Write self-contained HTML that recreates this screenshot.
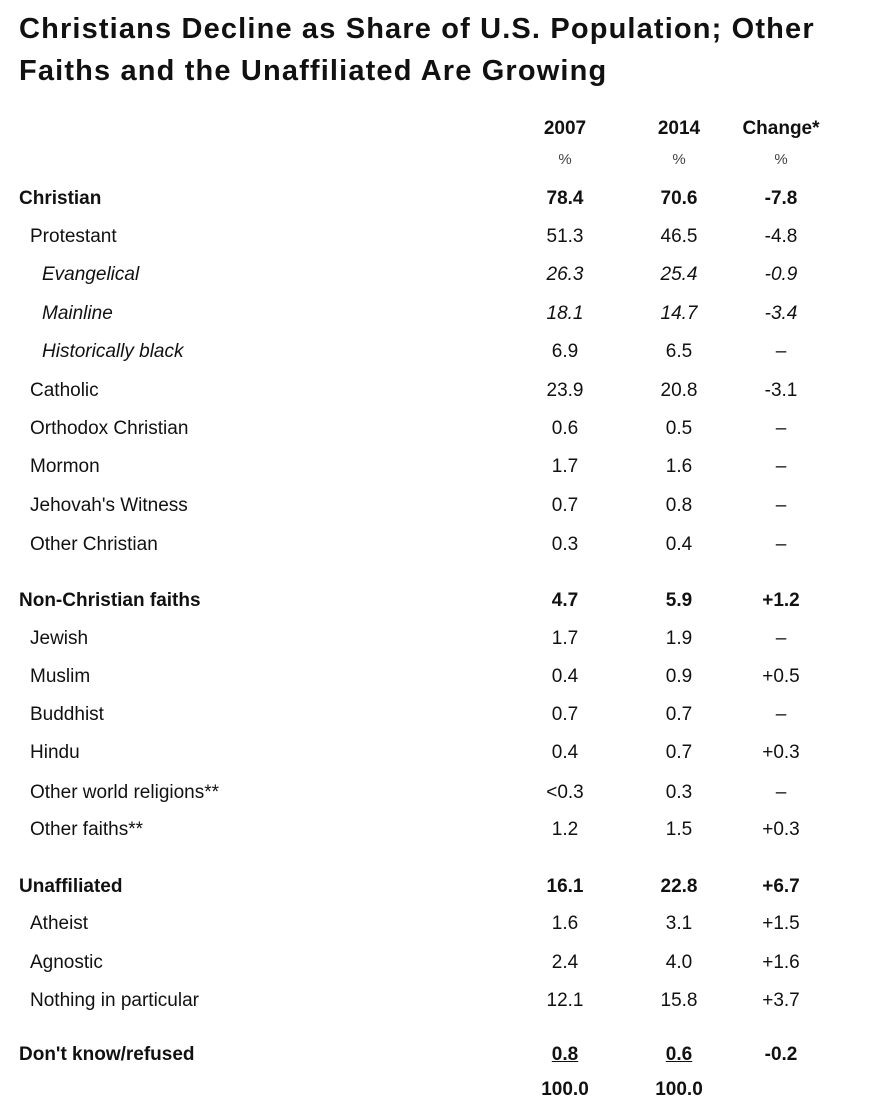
<!DOCTYPE html>
<html><head><meta charset="utf-8"><style>
body{margin:0;background:#fff;width:876px;height:1120px;position:relative;overflow:hidden;font-family:"Liberation Sans",Arial,sans-serif;color:#111}
.t{position:absolute;left:19px;font-size:29px;font-weight:bold;line-height:34px;letter-spacing:1.15px}
.r{position:absolute;left:0;width:876px;height:24px;line-height:24px;font-size:19px}
.r span{position:absolute;top:0}
.l{left:30px}.i{left:42px;font-style:italic}
.l0{left:19px}
.c{width:100px;text-align:center}
.c1{left:515px}.c2{left:629px}.c3{left:731px}
.b{font-weight:bold}
</style></head><body>
<div class="t" style="top:12px">Christians Decline as Share of U.S. Population; Other</div>
<div class="t" style="top:54px">Faiths and the Unaffiliated Are Growing</div>
<div id="rows"></div>
<script>
var R=[
[127,'','2007','2014','Change*','b'],
[158,'','%','%','%','p'],
[197,'Christian','78.4','70.6','-7.8','b'],
[235,'Protestant','51.3','46.5','-4.8','n'],
[273,'Evangelical','26.3','25.4','-0.9','i'],
[312,'Mainline','18.1','14.7','-3.4','i'],
[350,'Historically black','6.9','6.5','–','i2'],
[389,'Catholic','23.9','20.8','-3.1','n'],
[427,'Orthodox Christian','0.6','0.5','–','n'],
[465,'Mormon','1.7','1.6','–','n'],
[504,"Jehovah's Witness",'0.7','0.8','–','n'],
[543,'Other Christian','0.3','0.4','–','n'],
[599,'Non-Christian faiths','4.7','5.9','+1.2','b'],
[637,'Jewish','1.7','1.9','–','n'],
[675,'Muslim','0.4','0.9','+0.5','n'],
[713,'Buddhist','0.7','0.7','–','n'],
[751,'Hindu','0.4','0.7','+0.3','n'],
[791,'Other world religions**','&lt;0.3','0.3','–','n'],
[828,'Other faiths**','1.2','1.5','+0.3','n'],
[885,'Unaffiliated','16.1','22.8','+6.7','b'],
[922,'Atheist','1.6','3.1','+1.5','n'],
[961,'Agnostic','2.4','4.0','+1.6','n'],
[999,'Nothing in particular','12.1','15.8','+3.7','n'],
[1053,"Don't know/refused",'<u>0.8</u>','<u>0.6</u>','-0.2','b'],
[1088,'','100.0','100.0','','b']];
var h='';
R.forEach(function(r){
 var k=r[5];var cls='r'+(k=='b'?' b':'');var st=k=='p'?'font-size:15px;color:#444':'';
 var lc=k=='b'?'l0':(k=='i'||k=='i2'?'i':'l');
 var num=k=='i'?'font-style:italic':'';
 h+='<div class="'+cls+'" style="top:'+(r[0]-10)+'px;'+st+'"><span class="'+lc+'">'+r[1]+'</span><span class="c c1" style="'+num+'">'+r[2]+'</span><span class="c c2" style="'+num+'">'+r[3]+'</span><span class="c c3" style="'+num+'">'+r[4]+'</span></div>';
});
document.getElementById('rows').innerHTML=h;
</script>
</body></html>
